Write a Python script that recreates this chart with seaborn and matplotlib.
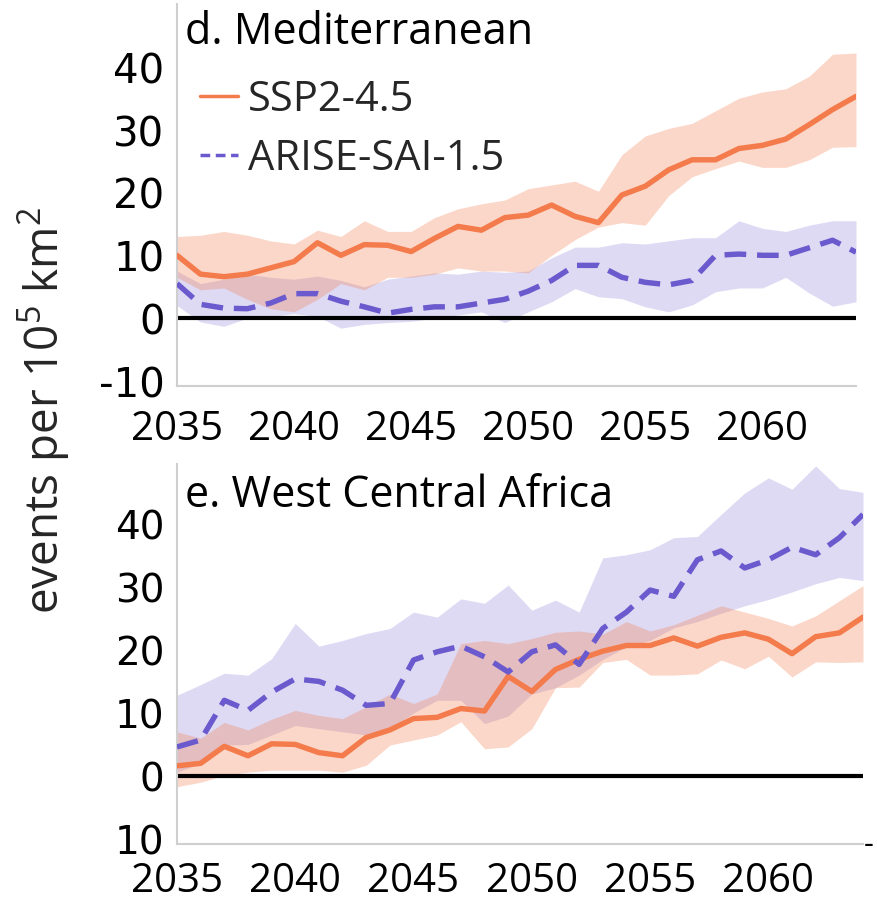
import matplotlib
matplotlib.use("Agg")
import matplotlib.pyplot as plt
import seaborn as sns
import pandas as pd
from matplotlib.lines import Line2D

# ---- data -------------------------------------------------------------
years = list(range(2035, 2065))

# d. Mediterranean
med_ssp = [10.0, 7.0, 6.6, 7.0, 8.0, 9.0, 12.0, 10.0, 11.7, 11.6,
           10.6, 12.7, 14.6, 14.0, 16.0, 16.4, 18.0, 16.2, 15.2, 19.6,
           21.0, 23.6, 25.2, 25.2, 27.0, 27.5, 28.5, 30.8, 33.2, 35.3]
med_ssp_hi = [13.0, 13.2, 13.8, 13.2, 12.3, 11.8, 14.0, 13.0, 15.5, 13.8,
              13.8, 16.0, 17.4, 18.2, 18.8, 20.6, 21.2, 21.8, 20.2, 26.0,
              29.0, 30.2, 31.0, 33.0, 35.0, 36.0, 36.5, 38.5, 42.0, 42.2]
med_ssp_lo = [6.5, 4.5, 4.8, 3.0, 1.5, 1.0, 3.0, 5.5, 4.5, 6.5,
              6.5, 7.0, 8.0, 7.5, 7.5, 7.2, 10.0, 12.5, 14.5, 15.2,
              14.8, 19.5, 22.5, 23.8, 25.0, 24.0, 24.0, 25.2, 27.2, 27.3]
med_arise = [5.5, 2.2, 1.6, 1.5, 2.4, 3.9, 3.9, 2.7, 1.8, 0.8,
             1.4, 1.8, 1.8, 2.4, 3.0, 4.3, 6.0, 8.4, 8.4, 6.5,
             5.7, 5.3, 6.0, 10.0, 10.2, 10.0, 10.0, 11.2, 12.4, 10.5]
med_arise_hi = [7.5, 5.5, 6.2, 7.0, 6.5, 6.2, 6.7, 6.0, 5.0, 6.2,
                6.7, 7.2, 7.0, 7.5, 7.3, 7.5, 9.6, 11.3, 11.3, 12.0,
                11.8, 12.3, 12.8, 12.8, 15.5, 14.3, 13.8, 14.8, 15.5, 15.5]
med_arise_lo = [2.0, -0.6, -1.3, 0.0, 0.3, 0.7, 0.3, -1.6, -1.0, -0.7,
                -0.5, 0.0, 0.5, 1.0, -0.7, 1.0, 2.6, 4.7, 3.4, 3.1,
                1.8, 1.0, 2.1, 4.2, 4.8, 4.8, 6.5, 4.0, 1.9, 2.6]

# e. West Central Africa
wca_ssp = [1.6, 2.0, 4.7, 3.2, 5.1, 5.0, 3.7, 3.2, 6.1, 7.3,
           9.1, 9.3, 10.7, 10.3, 15.8, 13.4, 16.9, 18.5, 19.8, 20.7,
           20.7, 21.9, 20.6, 22.0, 22.7, 21.7, 19.4, 22.1, 22.7, 25.2]
wca_ssp_hi = [7.0, 6.0, 8.5, 7.3, 9.0, 10.4, 9.6, 9.1, 11.0, 13.0,
              11.5, 13.0, 21.0, 21.5, 21.0, 21.8, 22.8, 23.0, 22.5, 24.5,
              23.0, 24.0, 25.5, 27.0, 26.0, 25.0, 23.8, 25.4, 27.8, 30.2]
wca_ssp_lo = [-1.7, -1.0, 0.1, 0.6, 0.9, 0.9, 0.9, 0.6, 1.7, 4.9,
              5.7, 6.5, 8.6, 4.3, 4.6, 7.5, 14.0, 14.1, 18.0, 18.5,
              16.0, 16.0, 16.2, 18.4, 17.0, 19.0, 15.7, 18.1, 18.0, 18.1]
wca_arise = [4.6, 5.7, 12.0, 10.4, 13.3, 15.4, 15.0, 13.6, 11.2, 11.5,
             18.4, 19.7, 20.6, 18.9, 16.5, 19.7, 20.8, 17.7, 23.4, 26.0,
             29.5, 28.5, 34.3, 35.7, 33.0, 34.3, 36.3, 35.1, 37.8, 41.5]
wca_arise_hi = [12.8, 14.5, 16.3, 16.0, 18.6, 24.2, 20.6, 21.5, 22.6, 23.4,
                26.0, 25.2, 28.1, 27.4, 30.3, 26.3, 27.9, 26.0, 34.6, 35.1,
                35.9, 37.8, 38.0, 41.5, 44.9, 47.3, 45.5, 49.2, 45.6, 45.0]
wca_arise_lo = [0.6, 2.0, 4.9, 5.0, 6.5, 8.0, 7.5, 7.0, 6.5, 7.5,
                10.0, 12.0, 12.0, 8.3, 9.5, 13.0, 14.0, 16.0, 18.5, 20.5,
                21.5, 23.5, 24.5, 25.8, 27.0, 28.0, 29.2, 30.5, 31.5, 31.0]

scenarios = ["SSP2-4.5", "ARISE-SAI-1.5"]
x_ticks = [2035, 2040, 2045, 2050, 2055, 2060]
y_ticks = [-10, 0, 10, 20, 30, 40]
y_labels_top = ["-10", "0", "10", "20", "30", "40"]
y_labels_bottom = ["10", "0", "10", "20", "30", "40"]

# ---- style ------------------------------------------------------------
sns.set_theme(style="white")
plt.rcParams["font.family"] = ["Open Sans", "DejaVu Sans"]

ORANGE = "#f47b4c"
PURPLE = "#6a5acd"
SPINE = "#cfcfcf"

fig = plt.figure(figsize=(8.77, 9.04), dpi=100)
W, H = 877, 904
ax_top = fig.add_axes([177 / W, 1 - 387 / H, (856 - 177) / W, (387 - 5) / H])
ax_bot = fig.add_axes([177 / W, 1 - 845 / H, (863 - 177) / W, (845 - 465) / H])


def draw_panel(ax, ssp, ssp_lo, ssp_hi, arise, arise_lo, arise_hi,
               title, ylim, ylabels, title_y, xpad, yfont):
    df = pd.DataFrame({
        "year": years * 2,
        "events": ssp + arise,
        "scenario": [scenarios[0]] * len(years) + [scenarios[1]] * len(years),
    })
    ax.fill_between(years, arise_lo, arise_hi, color=PURPLE, alpha=0.22,
                    linewidth=0)
    ax.fill_between(years, ssp_lo, ssp_hi, color=ORANGE, alpha=0.30,
                    linewidth=0)
    ax.axhline(0, color="black", linewidth=3.0, zorder=2)
    sns.lineplot(data=df, x="year", y="events", hue="scenario",
                 style="scenario",
                 palette={scenarios[0]: ORANGE, scenarios[1]: PURPLE},
                 dashes={scenarios[0]: "", scenarios[1]: (4, 2)},
                 linewidth=3.9, legend=False, ax=ax, zorder=3)

    ax.set_xlim(years[0], years[-1])
    ax.set_ylim(*ylim)
    ax.set_xticks(x_ticks)
    ax.set_xticklabels([str(t) for t in x_ticks], fontsize=29,
                       family="Open Sans")
    ax.set_yticks(y_ticks)
    ax.set_yticklabels(ylabels, fontsize=yfont, family="DejaVu Sans")
    ax.set_xlabel("")
    ax.set_ylabel("")
    for side in ("top", "right"):
        ax.spines[side].set_visible(False)
    for side in ("left", "bottom"):
        ax.spines[side].set_color(SPINE)
        ax.spines[side].set_linewidth(1.5)
    ax.tick_params(axis="both", direction="out", length=4, width=1,
                   color="#bdbdbd", labelcolor="black")
    ax.tick_params(axis="y", pad=5)
    ax.tick_params(axis="x", pad=xpad)
    ax.text(0.012, title_y, title, transform=ax.transAxes, ha="left",
            va="top", fontsize=31, color="black")


draw_panel(ax_top, med_ssp, med_ssp_lo, med_ssp_hi,
           med_arise, med_arise_lo, med_arise_hi,
           "d. Mediterranean", (-10.8, 50), y_labels_top, 0.985, 12, 29)
draw_panel(ax_bot, wca_ssp, wca_ssp_lo, wca_ssp_hi,
           wca_arise, wca_arise_lo, wca_arise_hi,
           "e. West Central Africa", (-10.8, 49.5), y_labels_bottom, 0.978,
           8, 28)

handles = [Line2D([], [], color=ORANGE, linewidth=2.5),
           Line2D([], [], color=PURPLE, linewidth=2.5, dashes=(2.8, 1.6))]
ax_top.legend(handles, scenarios, loc="upper left",
              bbox_to_anchor=(0.034, 0.805), frameon=False, fontsize=30,
              borderpad=0, borderaxespad=0, handlelength=0.9,
              handletextpad=0.25, labelspacing=0.4)

ax_bot.text(1.009, 0.0, "-", transform=ax_bot.transAxes, ha="center",
            va="center", fontsize=22, color="black")

fig.text(44 / W, 1 - 410 / H,
         r"events per $\mathregular{10^5}$ km$\mathregular{^2}$",
         rotation=90, ha="center", va="center", fontsize=33,
         family="Open Sans")

fig.savefig("out.png", dpi=100)
